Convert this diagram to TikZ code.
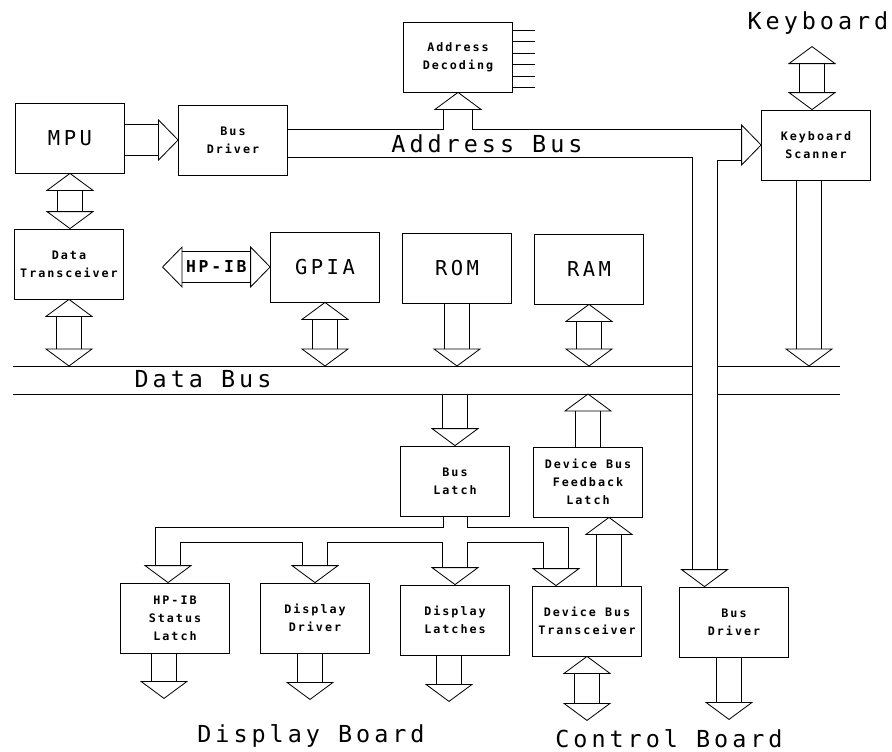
\documentclass[tikz,border=0pt]{standalone}
\usepackage{fontspec}
\newfontfamily\plotfont[LetterSpace=17]{DejaVu Sans Mono}
\usepackage{tikz}
\usetikzlibrary{calc,positioning}
\newcommand\blkfont{\plotfont\bfseries\fontsize{10}{15.5}\selectfont}
\newcommand\chipfont{\plotfont\fontsize{17.5}{20}\selectfont}
\newcommand\busfont{\plotfont\fontsize{20}{24}\selectfont}
\newcommand\hpibfont{\plotfont\bfseries\fontsize{14}{16}\selectfont}
\def\hdw{23}\def\hdl{17}\def\shw{12.5}
\tikzset{
  blk/.style={rectangle,draw,minimum width=3.27cm,minimum height=2.1cm,
              inner sep=1pt,align=center,font=\blkfont},
  lbl/.style={font=\busfont,inner sep=0pt,anchor=base},
  vsize/.code={\def\hdw{23}\def\hdl{17}\def\shw{12.5}},
  hsize/.code={\def\hdw{20}\def\hdl{19.5}\def\shw{15.5}},
  shaft/.code={\def\shw{#1}},
  pics/bushead/.style={code={
    \draw (-\hdw,-\hdl) -- (0,0) -- (\hdw,-\hdl) -- cycle;
    \coordinate (-L) at (-\shw,-\hdl);
    \coordinate (-R) at (\shw,-\hdl);
    \coordinate (-tip) at (0,0);
  }},
}
\newcommand\busdown[3]{%
  \pic (#3) at (#2) {bushead};
  \draw (#3-L) -- (#3-L |- #1) (#3-R) -- (#3-R |- #1);}
\newcommand\busup[3]{%
  \pic[rotate=180] (#3) at (#2) {bushead};
  \draw (#3-L) -- (#3-L |- #1) (#3-R) -- (#3-R |- #1);}
\newcommand\busboth[3]{%
  \pic[rotate=180] (#3u) at (#1) {bushead};
  \pic (#3d) at (#2) {bushead};
  \draw (#3d-L) -- (#3d-L |- #3u-L) (#3d-R) -- (#3d-R |- #3u-L);}

\begin{document}
\begin{tikzpicture}[x=0.03cm,y=-0.03cm,line width=0.7pt]
    \useasboundingbox (0,0) rectangle (892,751);
    \node[blk,font=\chipfont] (mpu) at (70,138) {MPU};
    \node[blk] (busdrvA) at (233,140) {Bus\\Driver};
    \node[blk] (adec) at (458,57) {Address\\Decoding};
    \node[blk] (kbsc) at (816,145) {Keyboard\\Scanner};
    \node[blk] (dxcv) at (69,264) {Data\\Transceiver};
    \node[blk,font=\chipfont] (gpia) at (325,267) {GPIA};
    \node[blk,font=\chipfont] (rom) at (457,268) {ROM};
    \node[blk,font=\chipfont] (ram) at (589,269) {RAM};
    \node[blk] (blatch) at (455,481) {Bus\\Latch};
    \node[blk] (fblatch) at (588,482) {Device Bus\\Feedback\\Latch};
    \node[blk] (hpstat) at (175,618) {HP-IB\\Status\\Latch};
    \node[blk] (ddrv) at (315,618) {Display\\Driver};
    \node[blk] (dlatch) at (455,620) {Display\\Latches};
    \node[blk] (dbxcv) at (587,621) {Device Bus\\Transceiver};
    \node[blk] (busdrvB) at (734,622) {Bus\\Driver};

    \coordinate (dtop) at (13,366);
    \coordinate (dbot) at (13,394);
    \coordinate (dend) at (840,366);
    \coordinate (hpib) at ($(gpia.west)+(-107.5,0)$);
    \coordinate (kbin) at ($(kbsc.north)+(-4,0)$);
    \coordinate (kbd) at ($(kbin)+(0,-63)$);
    \coordinate (kbout) at ($(kbsc.south)+(-7,0)$);
    \coordinate (fbin) at ($(dbxcv.north)+(22,0)$);
    \coordinate (tO) at ($(blatch.south)+(0,11)$);
    \coordinate (tI) at ($(blatch.south)+(0,26)$);
    \coordinate (hsout) at ($(hpstat.south)+(-11,45)$);
    \coordinate (ddout) at ($(ddrv.south)+(-5,46)$);
    \coordinate (dlout) at ($(dlatch.south)+(-6,46)$);
    \coordinate (dxout) at ($(dbxcv.south)+(0,64)$);
    \coordinate (bdout) at ($(busdrvB.south)+(-5,62)$);

    \pic[hsize,rotate=90] (md) at (busdrvA.west) {bushead};
    \draw (md-L) -- (md-L -| mpu.east) (md-R) -- (md-R -| mpu.east);

    \pic[shaft=14.5,rotate=180] (adh) at (adec.south) {bushead};
    \pic[hsize,rotate=90] (kbh) at (kbsc.west) {bushead};
    \pic (abh) at ([xshift=-0.885cm]busdrvB.north) {bushead};
    \draw ($(busdrvA.east)+(0,-11)$) -| (adh-R);
    \draw (adh-L) |- (kbh-R);
    \draw ($(busdrvA.east)+(0,17)$) -| (abh-L);
    \draw (kbh-L) -| (abh-R);
    \foreach \dy in {-27,-15.5,-4,7.5,19,30}
      \draw ($(adec.east)+(0,\dy)$) -- ++(22,0);

    \draw (dtop) -- (dtop -| abh-L) (dtop -| abh-R) -- (dend);
    \draw (dbot) -- (dbot -| abh-L) (dbot -| abh-R) -- (dbot -| dend);

    \pic[hsize,rotate=90] (hpr) at (gpia.west) {bushead};
    \pic[hsize,rotate=-90] (hpl) at (hpib) {bushead};
    \draw (hpl-L) -- (hpl-L -| hpr-L) (hpl-R) -- (hpl-R -| hpr-L);
    \node[font=\hpibfont,inner sep=0pt] (hpibtxt) at ($(hpl-tip)!0.5!(hpr-tip)$) {HP-IB};

    \busboth{kbd}{kbin}{kk}
    \busboth{mpu.south}{mpu.south |- dxcv.north}{mx}
    \busboth{dxcv.south}{dxcv.south |- dtop}{xb}
    \busboth{gpia.south}{gpia.south |- dtop}{gb}
    \busdown{rom.south}{rom.south |- dtop}{rb}
    \busboth{ram.south}{ram.south |- dtop}{mb}
    \busdown{kbsc.south}{kbout |- dtop}{kb}
    \busdown{dbot}{blatch.north}{bl}
    \busup{fblatch.north}{fblatch.north |- dbot}{fb}
    \busup{fbin}{fbin |- fblatch.south}{xf}

    \pic (hs) at ([xshift=-0.21cm]hpstat.north) {bushead};
    \pic (dd) at (ddrv.north) {bushead};
    \pic (dl) at (dlatch.north) {bushead};
    \pic (dx) at ([xshift=-0.93cm]dbxcv.north) {bushead};
    \draw ($(blatch.south)+(-12,0)$) |- (tO -| hs-L) -- (hs-L);
    \draw ($(blatch.south)+(12,0)$) |- (tO -| dx-R) -- (dx-R);
    \draw (hs-R) |- (tI -| dd-L) -- (dd-L);
    \draw (dd-R) |- (tI -| dl-L) -- (dl-L);
    \draw (dl-R) |- (tI -| dx-L) -- (dx-L);

    \busdown{hpstat.south}{hsout}{ho}
    \busdown{ddrv.south}{ddout}{do}
    \busdown{dlatch.south}{dlout}{lo}
    \busboth{dbxcv.south}{dxout}{xo}
    \busdown{busdrvB.south}{bdout}{bo}

    \node[lbl] (kbdlbl) at (818,29) {Keyboard};
    \node[lbl] (abuslbl) at (487,152) {Address Bus};
    \node[lbl] (dbuslbl) at (203,387) {Data Bus};
    \node[lbl] (dispbd) at (311,742) {Display Board};
    \node[lbl] (ctlbd) at (669,747) {Control Board};
\end{tikzpicture}
\end{document}
